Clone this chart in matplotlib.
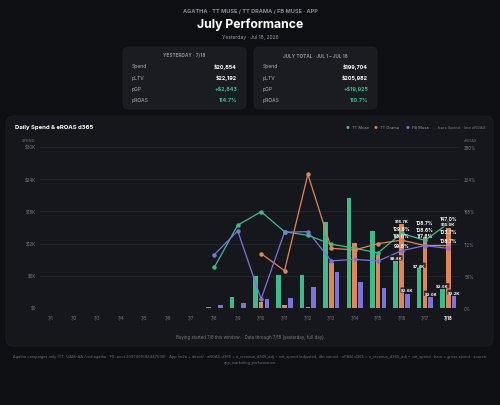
import numpy as np
import matplotlib.pyplot as plt
from matplotlib.patches import FancyBboxPatch

plt.rcParams['font.family'] = ['Inter', 'DejaVu Sans']

# --- data ---
dates = ['7/1', '7/2', '7/3', '7/4', '7/5', '7/6', '7/7', '7/8', '7/9',
         '7/10', '7/11', '7/12', '7/13', '7/14', '7/15', '7/16', '7/17', '7/18']
nan = np.nan
# spend, $K
spend_tt_muse = [0, 0, 0, 0, 0, 0, 0, 0.15, 2.0, 5.9, 6.1, 6.1, 16.0, 20.5, 14.4, 8.8, 7.4, 3.6]
spend_tt_drama = [0, 0, 0, 0, 0, 0, 0, 0, 0, 1.2, 0.6, 0.2, 8.4, 12.2, 9.9, 15.7, 13.2, 15.0]
spend_fb_muse = [0, 0, 0, 0, 0, 0, 0, 0.5, 1.0, 1.6, 1.9, 4.0, 6.8, 4.8, 3.7, 2.6, 2.0, 2.2]
# eROAS d365, %
eroas_tt_muse = [nan] * 7 + [70.8, 144, 167.5, 132.7, 126.4, 111, 103.8, 96, 129.8, 117.6, 147.0]
eroas_tt_drama = [nan] * 9 + [94.5, 65, 232.5, 103.8, 101, 112, 118.0, 108.7, 108.7]
eroas_fb_muse = [nan] * 7 + [92.8, 134, 15.6, 132, 132.7, 82, 84.6, 81.7, 99.6, 108.6, 103.7]

yesterday_rows = [('Spend', '$20,854'), ('pLTV', '$22,192'), ('pGP', '+$2,843'), ('pROAS', '114.7%')]
month_rows = [('Spend', '$199,704'), ('pLTV', '$205,982'), ('pGP', '+$19,925'), ('pROAS', '110.7%')]

spend_ticks = [0, 6, 12, 18, 24, 30]
eroas_ticks = [0, 56, 112, 168, 224, 280]

GREEN, ORANGE, PURPLE = '#3dbb8d', '#dd855b', '#7d74da'
BG, PANEL, CARD = '#0e0f13', '#16171c', '#1b1c21'
W, H = 500, 406

fig = plt.figure(figsize=(W / 100, H / 100), dpi=100, facecolor=BG)


def fx(px):
    return px / W


def fy(py):
    return 1 - py / H


def panel(x0, y0, x1, y1, fc, r):
    p = FancyBboxPatch((x0 / 100, (H - y1) / 100), (x1 - x0) / 100, (y1 - y0) / 100,
                       boxstyle=f'round,pad=0,rounding_size={r / 100}',
                       transform=fig.dpi_scale_trans, fc=fc, ec='#202127', lw=0.5, zorder=-10)
    fig.add_artist(p)


# header
fig.text(fx(250), fy(11), 'AGATHA · TT MUSE / TT DRAMA / FB MUSE · APP', color='#8a8c94',
         fontsize=4.0, ha='center', va='center', fontweight='bold')
fig.text(fx(250), fy(25), 'July Performance', color='white', fontsize=8.8,
         ha='center', va='center', fontweight='bold')
fig.text(fx(250), fy(37.5), 'Yesterday · Jul 18, 2026', color='#9a9ca4', fontsize=3.6,
         ha='center', va='center')

# KPI cards
for (x0, x1), title, rows in [((123, 246), 'YESTERDAY · 7/18', yesterday_rows),
                              ((254, 377), 'JULY TOTAL · JUL 1 – JUL 18', month_rows)]:
    panel(x0, 48, x1, 110, CARD, 5)
    fig.text(fx((x0 + x1) / 2), fy(56), title, color='#8a8c94', fontsize=3.4,
             ha='center', va='center', fontweight='bold')
    for i, (lab, val) in enumerate(rows):
        y = 66.7 + i * 11.4
        fig.text(fx(x0 + 9), fy(y), lab, color='#b5b7bf', fontsize=3.6, ha='left', va='center')
        col = GREEN if lab in ('pGP', 'pROAS') else 'white'
        fig.text(fx(x1 - 9), fy(y), val, color=col, fontsize=3.9, ha='right', va='center',
                 fontweight='bold')

# chart panel
panel(6, 117, 493, 347, PANEL, 7)
fig.text(fx(15), fy(128), 'Daily Spend & eROAS d365', color='white', fontsize=4.3,
         ha='left', va='center', fontweight='bold')
leg = [(347, GREEN, 'TT Muse'), (376, ORANGE, 'TT Drama'), (408, PURPLE, 'FB Muse')]
for xp, c, lab in leg:
    fig.text(fx(xp), fy(128), '●', color=c, fontsize=3.0, ha='center', va='center')
    fig.text(fx(xp + 4.5), fy(128), lab, color='#9a9ca4', fontsize=2.95, ha='left', va='center')
fig.text(fx(485), fy(128), 'bars Spend · line eROAS', color='#7a7c84', fontsize=2.95,
         ha='right', va='center')
fig.text(fx(29), fy(141), 'SPEND', color='#6c6e76', fontsize=2.9, ha='center', va='center')
fig.text(fx(470), fy(141), 'eROAS', color='#6c6e76', fontsize=2.9, ha='center', va='center')

ax = fig.add_axes([fx(40), fy(309), 420 / W, 161 / H])
ax.set_facecolor('none')
x = np.arange(len(dates))
bw = 0.2
ax.bar(x - 0.25, spend_tt_muse, bw, color=GREEN, zorder=2)
ax.bar(x, spend_tt_drama, bw, color=ORANGE, zorder=2)
ax.bar(x + 0.25, spend_fb_muse, bw, color=PURPLE, zorder=2)
ax.set_xlim(-0.45, 17.5)
ax.set_ylim(0, 30)
ax.set_yticks(spend_ticks)
ax.set_yticklabels([f'${v}K' if v else '$0' for v in spend_ticks])
ax.set_xticks(x)
ax.set_xticklabels(dates)
ax.yaxis.grid(True, color='#25272e', lw=0.6, zorder=0)
ax.tick_params(length=0, labelsize=3.1, labelcolor='#7a7c84')
ax.tick_params(axis='x', pad=5)
ax.tick_params(axis='y', pad=3)
xl = ax.get_xticklabels()[-1]
xl.set_color('white')
xl.set_fontweight('bold')
for s in ax.spines.values():
    s.set_visible(False)

ax2 = ax.twinx()
ax2.set_ylim(0, 280)
ax2.set_yticks(eroas_ticks)
ax2.set_yticklabels([f'{v}%' for v in eroas_ticks])
ax2.tick_params(length=0, labelsize=3.1, labelcolor='#7a7c84', pad=3)
for s in ax2.spines.values():
    s.set_visible(False)
for vals, c in [(eroas_tt_muse, GREEN), (eroas_tt_drama, ORANGE), (eroas_fb_muse, PURPLE)]:
    ax2.plot(x, vals, color=c, lw=0.9, marker='o', ms=2.2, zorder=3)

# value labels on the last three days
label_offsets = {  # (series, day index): pixel offset up
    ('g', 15): 5, ('o', 15): 4.5, ('p', 15): 5,
    ('g', 16): 4.7, ('o', 16): 22.5, ('p', 16): 15.6,
    ('g', 17): 5, ('o', 17): 4.5, ('p', 17): 17,
}
series = {'g': eroas_tt_muse, 'o': eroas_tt_drama, 'p': eroas_fb_muse}
for (k, i), dy in label_offsets.items():
    ax2.annotate(f'{series[k][i]:.1f}%', (x[i], series[k][i]), xytext=(0, dy),
                 textcoords='offset pixels', ha='center', va='center', color='white',
                 fontsize=3.4, fontweight='bold', zorder=5)

bar_offsets = [(-0.25, spend_tt_muse, 3), (0, spend_tt_drama, 3.5), (0.25, spend_fb_muse, 4)]
for i in (15, 16, 17):
    for dx, vals, dy in bar_offsets:
        if i == 16 and vals is spend_tt_drama:
            continue
        ax2.annotate(f'${vals[i]:.1f}K', (x[i] + dx, vals[i]), xycoords=ax.transData,
                     xytext=(0, dy), textcoords='offset pixels', ha='center', va='center',
                     color='white', fontsize=3.0, fontweight='bold', zorder=6,
                     bbox=dict(boxstyle='round,pad=0.15', fc='#1d1e24', ec='none', alpha=0.85))

fig.text(fx(250), fy(338), 'Buying started 7/8 this window. · Data through 7/18 (yesterday, full day).',
         color='#7a7c84', fontsize=3.1, ha='center', va='center')
fig.text(fx(250), fy(359.5),
         'Agatha campaigns only (TT: UAM-AA / md:agatha · FB: acct 2097491684447536) · App (w2a + direct) · '
         'eROAS d365 = e_revenue_d365_adj ÷ net_spend (adjusted, dbt canon) · ePAM d365 = '
         'e_revenue_d365_adj − net_spend · bars = gross spend · source:\napp_marketing_performance',
         color='#6c6e76', fontsize=2.85, ha='center', va='center', linespacing=1.7)

fig.savefig('out.png', dpi=100, facecolor=BG)
